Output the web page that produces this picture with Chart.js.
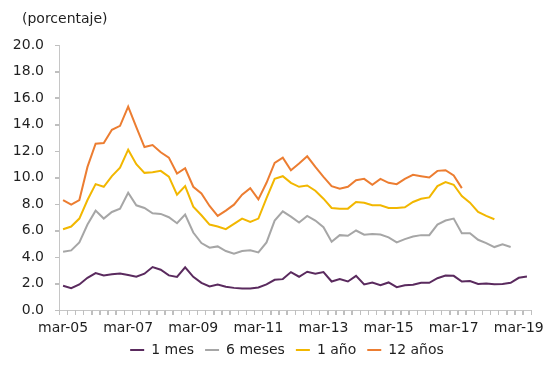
<!DOCTYPE html>
<html>
<head>
<meta charset="utf-8">
<script src="https://cdn.jsdelivr.net/npm/chart.js@4/dist/chart.umd.min.js"></script>
<style>
  html, body { margin: 0; padding: 0; background: #ffffff; }
  #wrap { width: 547px; height: 381px; }
</style>
</head>
<body>
<div id="wrap"><canvas id="c" width="547" height="381"></canvas></div>
<script>
// Quarterly periods, mar-05 .. jun-19
const months = ['mar', 'jun', 'sep', 'dic'];
const firstYear = 5;
const quarterCount = 58;
const categories = [];
for (let i = 0; i < quarterCount; i++) {
  const yy = firstYear + Math.floor(i / 4);
  categories.push(months[i % 4] + '-' + String(yy).padStart(2, '0'));
}

// Rates by tenor (porcentaje)
const mes1 = [1.83, 1.65, 1.93, 2.43, 2.79, 2.61, 2.69, 2.76, 2.64, 2.51,
  2.74, 3.24, 3.04, 2.61, 2.5, 3.22, 2.5, 2.05, 1.78, 1.93,
  1.75, 1.67, 1.62, 1.62, 1.7, 1.93, 2.28, 2.33, 2.86, 2.51,
  2.89, 2.74, 2.86, 2.15, 2.33, 2.15, 2.58, 1.93, 2.08, 1.87,
  2.08, 1.72, 1.87, 1.9, 2.05, 2.05, 2.4, 2.6, 2.58, 2.15,
  2.18, 1.97, 2.0, 1.95, 1.97, 2.05, 2.43, 2.53];

const meses6 = [4.4, 4.5, 5.1, 6.45, 7.5, 6.9, 7.4, 7.65, 8.85, 7.9,
  7.7, 7.3, 7.25, 7.0, 6.55, 7.2, 5.85, 5.05, 4.7, 4.8,
  4.45, 4.25, 4.45, 4.5, 4.35, 5.1, 6.75, 7.45, 7.05, 6.6,
  7.1, 6.75, 6.25, 5.15, 5.65, 5.6, 6.0, 5.68, 5.73, 5.7,
  5.48, 5.1, 5.35, 5.55, 5.65, 5.65, 6.45, 6.75, 6.9, 5.8,
  5.8, 5.3, 5.05, 4.75, 4.95, 4.75, null, null];

const anio1 = [6.1, 6.3, 6.9, 8.3, 9.5, 9.3, 10.1, 10.75, 12.1, 11.0,
  10.35, 10.4, 10.5, 10.06, 8.7, 9.35, 7.8, 7.15, 6.45, 6.3,
  6.1, 6.5, 6.9, 6.65, 6.9, 8.45, 9.9, 10.1, 9.6, 9.3,
  9.4, 9.0, 8.4, 7.7, 7.65, 7.65, 8.15, 8.1, 7.9, 7.9,
  7.7, 7.7, 7.75, 8.15, 8.4, 8.5, 9.35, 9.65, 9.45, 8.6,
  8.1, 7.4, 7.1, 6.85, null, null, null, null];

const anios12 = [8.3, 7.95, 8.3, 10.8, 12.55, 12.6, 13.6, 13.9, 15.35, 13.8,
  12.3, 12.45, 11.9, 11.5, 10.3, 10.7, 9.3, 8.8, 7.85, 7.1,
  7.5, 7.95, 8.7, 9.2, 8.35, 9.6, 11.1, 11.5, 10.55, 11.05,
  11.6, 10.8, 10.05, 9.35, 9.15, 9.3, 9.8, 9.9, 9.45, 9.9,
  9.6, 9.5, 9.9, 10.2, 10.1, 10.0, 10.5, 10.55, 10.15, 9.2,
  null, null, null, null, null, null, null, null];

const seriesNames = ['1 mes', '6 meses', '1 año', '12 años'];
const seriesColors = ['#5a2a5e', '#a6a6a6', '#f2b700', '#ec7d31'];
const seriesValues = [mes1, meses6, anio1, anios12];

const yTicks = { min: 0, max: 20, step: 2 };
const unitLabel = '(porcentaje)';
const xLabelEvery = 8;

const FONT = "'DejaVu Sans', Verdana, sans-serif";
const TEXT = '#1f1f1f';
const AXIS = '#c6c6c6';
const TICK = '#bfbfbf';

// Caption above the value axis
const unitCaption = {
  id: 'unitCaption',
  afterDraw(chart) {
    const ctx = chart.ctx;
    const area = chart.chartArea;
    ctx.save();
    ctx.font = '14px ' + FONT;
    ctx.fillStyle = TEXT;
    ctx.textAlign = 'left';
    ctx.textBaseline = 'middle';
    ctx.fillText(unitLabel, area.left - 37, area.top - 26);
    ctx.restore();
  }
};

// Short outside tick marks: one per quarter boundary on x, one per value step on y
const axisTicks = {
  id: 'axisTicks',
  afterDraw(chart) {
    const ctx = chart.ctx;
    const xs = chart.scales.x;
    const ys = chart.scales.y;
    const area = chart.chartArea;
    ctx.save();
    ctx.strokeStyle = TICK;
    ctx.lineWidth = 1;
    ctx.beginPath();
    const n = xs.ticks.length;
    const step = (area.right - area.left) / n;
    for (let i = 0; i <= n; i++) {
      const px = Math.round(area.left + i * step) + 0.5;
      ctx.moveTo(px, area.bottom);
      ctx.lineTo(px, area.bottom + 5);
    }
    ys.ticks.forEach(t => {
      const py = Math.round(ys.getPixelForValue(t.value)) + 0.5;
      ctx.moveTo(area.left - 4, py);
      ctx.lineTo(area.left, py);
    });
    ctx.stroke();
    ctx.restore();
  }
};

// Center the legend under the plot area rather than the whole canvas
const legendUnderPlot = {
  id: 'legendUnderPlot',
  afterLayout(chart) {
    const lg = chart.legend;
    if (!lg) return;
    const area = chart.chartArea;
    const shift = (area.left + area.right) / 2 - (lg.left + lg.right) / 2 - 8;
    lg.left += shift;
    lg.right += shift;
    if (lg.legendHitBoxes) lg.legendHitBoxes.forEach(b => { b.left += shift; });
  }
};

new Chart(document.getElementById('c'), {
  type: 'line',
  data: {
    labels: categories,
    datasets: seriesNames.map((name, k) => ({
      label: name,
      data: seriesValues[k],
      borderColor: seriesColors[k],
      backgroundColor: seriesColors[k],
      borderWidth: 2,
      pointRadius: 0,
      pointHoverRadius: 0,
      tension: 0,
      fill: false,
      spanGaps: false
    }))
  },
  options: {
    responsive: false,
    animation: false,
    devicePixelRatio: 1,
    layout: { padding: { left: 0, right: 16, top: 45, bottom: 14 } },
    plugins: {
      legend: {
        position: 'bottom',
        labels: {
          usePointStyle: true,
          pointStyle: 'line',
          pointStyleWidth: 14,
          boxHeight: 10,
          padding: 11,
          color: TEXT,
          font: { family: FONT, size: 14 }
        }
      },
      tooltip: { enabled: false },
      title: { display: false }
    },
    scales: {
      x: {
        type: 'category',
        offset: true,
        grid: {
          display: true,
          offset: true,
          drawOnChartArea: false,
          drawTicks: true,
          tickLength: 5,
          tickWidth: 1,
          tickColor: TICK,
          color: AXIS
        },
        border: { display: true, color: AXIS, width: 1 },
        ticks: {
          autoSkip: false,
          maxRotation: 0,
          minRotation: 0,
          padding: 5,
          color: TEXT,
          font: { family: FONT, size: 14 },
          callback: function (value, index) {
            return index % xLabelEvery === 0 ? this.getLabelForValue(value) : '';
          }
        },
        afterFit: (scale) => { scale.height = 22; }
      },
      y: {
        min: yTicks.min,
        max: yTicks.max,
        grid: {
          display: true,
          drawOnChartArea: false,
          drawTicks: true,
          tickLength: 4,
          tickWidth: 1,
          tickColor: TICK,
          color: AXIS
        },
        border: { display: true, color: AXIS, width: 1 },
        ticks: {
          stepSize: yTicks.step,
          padding: 11,
          color: TEXT,
          font: { family: FONT, size: 14 },
          callback: (v) => Number(v).toFixed(1)
        },
        afterFit: (scale) => { scale.width = 59; }
      }
    }
  },
  plugins: [unitCaption, axisTicks, legendUnderPlot]
});
</script>
</body>
</html>
